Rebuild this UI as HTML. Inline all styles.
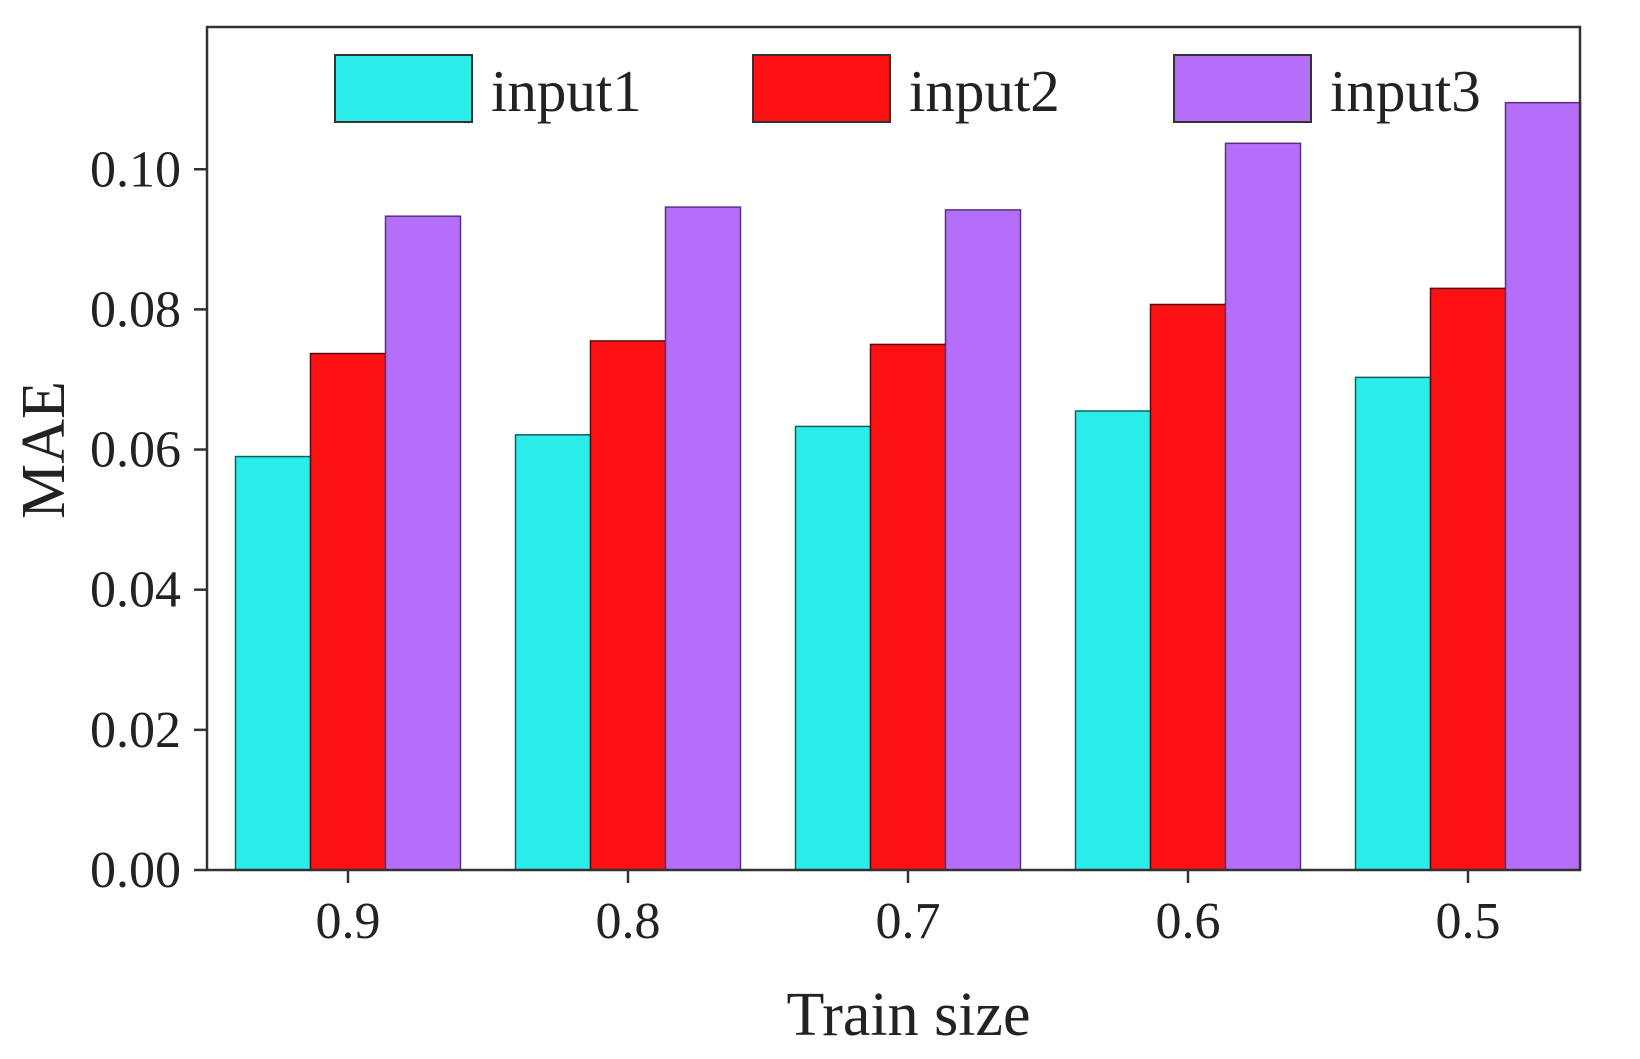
<!DOCTYPE html>
<html><head><meta charset="utf-8"><style>
body{margin:0;background:#fff;}
svg{display:block;font-family:"Liberation Serif",serif;}
</style></head><body>
<svg id="chart" width="1640" height="1059" viewBox="0 0 1640 1059" xmlns="http://www.w3.org/2000/svg">
<g id="bars"></g>
<g id="axes"></g>
<g id="legend"></g>
</svg>
<script>
const categories = ["0.9","0.8","0.7","0.6","0.5"];
const input1 = [0.0590,0.0621,0.0633,0.0655,0.0703];
const input2 = [0.0737,0.0755,0.0750,0.0807,0.0830];
const input3 = [0.0933,0.0946,0.0942,0.1037,0.1095];
const seriesNames = ["input1","input2","input3"];
const yTicks = [0,0.02,0.04,0.06,0.08,0.10];
const yTickLabels = ["0.00","0.02","0.04","0.06","0.08","0.10"];

const NS="http://www.w3.org/2000/svg";
const L=207,R=1580,T=27,B=870,YMAX=0.1203;
const colors=["#2cecea","#fc1212","#b46ef8"];
const strokes=["#106060","#5a0a0a","#5a3080"];
const series=[input1,input2,input3];
const y=v=>B-(v/YMAX)*(B-T);
const xc=i=>348+280*i;
const BW=75;
function mk(tag,attrs,parent){const e=document.createElementNS(NS,tag);for(const k in attrs)e.setAttribute(k,attrs[k]);parent.appendChild(e);return e;}
const bars=document.getElementById('bars'),axes=document.getElementById('axes'),legend=document.getElementById('legend');
series.forEach((s,si)=>{s.forEach((v,i)=>{
 const r=mk('rect',{x:xc(i)+(si-1)*BW-BW/2,y:y(v),width:BW,height:B-y(v),fill:colors[si],stroke:strokes[si],'stroke-width':1.5},bars);
 
 
});});
const frame=mk('rect',{x:L,y:T,width:R-L,height:B-T,fill:'none',stroke:'#333','stroke-width':2.5},axes);


yTicks.forEach((t,i)=>{
 mk('line',{x1:L-13,x2:L,y1:y(t),y2:y(t),stroke:'#333','stroke-width':2.5},axes);
 const tx=mk('text',{x:L-26,y:y(t)+17,'text-anchor':'end','font-size':52,fill:'#222'},axes);
 tx.textContent=yTickLabels[i];
 
 
});
categories.forEach((c,i)=>{
 mk('line',{x1:xc(i),x2:xc(i),y1:B,y2:B+13,stroke:'#333','stroke-width':2.5},axes);
 const tx=mk('text',{x:xc(i),y:938,'text-anchor':'middle','font-size':52,fill:'#222'},axes);
 tx.textContent=c;
 
 
});
const xt=mk('text',{x:(L+R)/2+15,y:1035,'text-anchor':'middle','font-size':62,fill:'#222'},axes);
xt.textContent="Train size";


const yt=mk('text',{x:0,y:0,transform:'translate(64,450) rotate(-90)','text-anchor':'middle','font-size':62,fill:'#222'},axes);
yt.textContent="MAE";


const lx=[335,753,1174];
seriesNames.forEach((n,si)=>{
 const g=mk('g',{},legend);
 
 
 mk('rect',{x:lx[si],y:55,width:137,height:67,fill:colors[si],stroke:'#333','stroke-width':2},g);
 const t=mk('text',{x:lx[si]+156,y:111,'font-size':59,fill:'#222'},g);
 t.textContent=n;
});
</script>
</body></html>
